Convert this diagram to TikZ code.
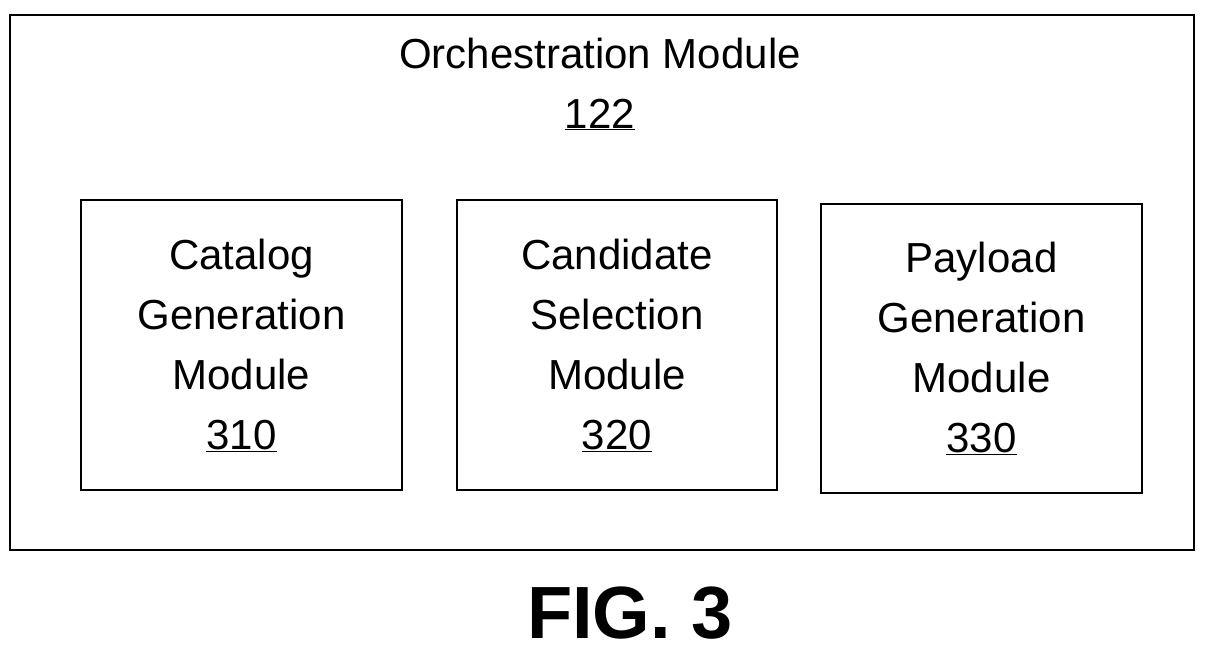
\documentclass[tikz,border=0pt]{standalone}
\usepackage{fontspec}
\setmainfont{Liberation Sans}
\begin{document}
\begin{tikzpicture}[x=1pt,y=-1pt,
  box/.style={draw,line width=2pt,inner sep=0pt},
  lbl/.style={align=center,font=\fontsize{42}{60}\selectfont}]
\useasboundingbox (0,0) rectangle (1214,653);
\node[box,minimum width=1184,minimum height=535] (outer) at (602,282.5) {};
\node[lbl] (title) at (600,84) {Orchestration Module\\\underline{122}};
\node[box,minimum width=321,minimum height=290] (b1) at (241.5,345) {};
\node[box,minimum width=320,minimum height=290] (b2) at (617,345) {};
\node[box,minimum width=321,minimum height=289] (b3) at (981.5,348.5) {};
\node[lbl] (t1) at (241.5,345) {Catalog\\Generation\\Module\\\underline{310}};
\node[lbl] (t2) at (617,345) {Candidate\\Selection\\Module\\\underline{320}};
\node[lbl] (t3) at (981.5,348) {Payload\\Generation\\Module\\\underline{330}};
\node[font=\bfseries\fontsize{74}{80}\selectfont] (fig) at (630,613) {FIG. 3};
\end{tikzpicture}
\end{document}
